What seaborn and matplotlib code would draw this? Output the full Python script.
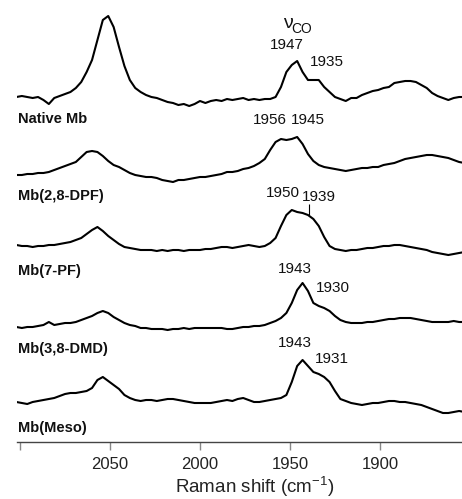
import numpy as np
import pandas as pd
import matplotlib
matplotlib.use("Agg")
import matplotlib.pyplot as plt
import seaborn as sns

wavenumber = np.arange(2102, 1852, -3)
samples = ["Native Mb", "Mb(2,8-DPF)", "Mb(7-PF)", "Mb(3,8-DMD)", "Mb(Meso)"]
offsets = [345, 267, 197, 115, 40]

native = [0, 1, 0, -1, 0, -3, -7, -1, 1, 3,
          5, 9, 15, 25, 37, 57, 77, 81, 70, 50,
          31, 17, 9, 5, 2, 0, -1, -3, -5, -6,
          -8, -7, -9, -7, -4, -6, -4, -3, -4, -2,
          -3, -2, -1, -3, -2, -3, -2, -2, 0, 10,
          25, 32, 36, 25, 17, 17, 17, 10, 5, 0,
          -2, -4, -1, -1, 2, 4, 6, 7, 9, 10,
          14, 15, 16, 16, 15, 12, 9, 4, 1, -1,
          -3, -1, 0, 0]
dpf = [0, 0, 1, 1, 2, 2, 3, 5, 7, 9,
       11, 13, 18, 23, 24, 23, 19, 14, 10, 8,
       5, 2, 0, -1, -2, -2, -3, -5, -6, -7,
       -5, -5, -4, -3, -2, -2, -1, 0, 1, 3,
       3, 4, 6, 7, 9, 12, 16, 25, 33, 36,
       35, 36, 38, 31, 21, 14, 10, 8, 7, 6,
       5, 4, 5, 6, 7, 7, 8, 8, 10, 11,
       12, 14, 16, 17, 18, 19, 20, 20, 19, 18,
       17, 15, 13, 12]
pf7 = [0, -1, -1, -2, -1, -1, 0, 0, 1, 2,
       3, 5, 7, 11, 15, 18, 14, 9, 5, 1,
       -2, -3, -4, -5, -5, -5, -6, -5, -6, -5,
       -5, -6, -5, -5, -5, -4, -4, -3, -2, -2,
       -3, -2, -1, 0, -1, -2, -1, 2, 7, 19,
       30, 35, 33, 32, 30, 26, 19, 8, -1, -4,
       -5, -6, -5, -5, -4, -3, -3, -2, -1, -1,
       0, 0, -1, -2, -3, -4, -5, -7, -8, -9,
       -10, -9, -8, -7]
dmd = [0, -1, 0, 0, 1, 2, 5, 2, 3, 4,
       4, 5, 7, 9, 11, 14, 16, 14, 10, 7,
       4, 2, 1, -1, -1, -2, -2, -2, -3, -2,
       -2, -1, -2, -1, -1, -1, -1, -1, -1, -2,
       -2, -1, 0, 0, 1, 1, 2, 4, 6, 9,
       14, 24, 37, 44, 36, 24, 21, 19, 16, 11,
       7, 5, 4, 4, 4, 5, 5, 6, 7, 8,
       8, 9, 9, 9, 8, 7, 6, 5, 5, 5,
       5, 6, 5, 5]
meso = [0, -1, -2, 0, 1, 2, 3, 4, 6, 8,
        9, 9, 10, 11, 14, 22, 25, 21, 17, 13,
        7, 4, 2, 1, 2, 2, 1, 2, 3, 3,
        2, 1, 0, -1, -1, -1, -1, 0, 1, 2,
        1, 3, 4, 2, 0, 0, 1, 2, 3, 4,
        7, 20, 36, 42, 36, 30, 28, 25, 20, 11,
        3, 1, -1, -2, -3, -2, -1, -1, 0, 1,
        1, 0, 0, -1, -2, -3, -5, -7, -9, -11,
        -11, -10, -9, -10]
spectra = [native, dpf, pf7, dmd, meso]

tick_values = [2100, 2050, 2000, 1950, 1900]
tick_labels = ["", "2050", "2000", "1950", "1900"]

rows = []
for name, off, ys in zip(samples, offsets, spectra):
    for w, v in zip(wavenumber, ys):
        rows.append({"w": w, "y": v + off, "sample": name})
df = pd.DataFrame(rows)

sns.set_style("white")
plt.rcParams["font.family"] = ["Liberation Sans", "DejaVu Sans"]
plt.rcParams["mathtext.fontset"] = "custom"
plt.rcParams["mathtext.rm"] = "Liberation Sans"

fig = plt.figure(figsize=(4.62, 4.99), dpi=100)
ax = fig.add_axes([17 / 462, 57 / 499, 445 / 462, 442 / 499])
sns.lineplot(data=df, x="w", y="y", units="sample", estimator=None, sort=False,
             color="black", lw=1.5, ax=ax, legend=False)

# sample names under each trace
name_y = [319, 242, 167, 89, 10]
for name, yy in zip(samples, name_y):
    ax.text(2101, yy, name, ha="left", va="baseline", fontsize=10.5,
            fontweight="bold", color="#111")

# peak positions
peaks = [("1947", 1951.7, 397), ("1935", 1929.4, 380),
         ("1956", 1961.1, 322), ("1945", 1940.0, 322),
         ("1950", 1954.2, 249), ("1939", 1933.9, 245),
         ("1943", 1947.0, 173), ("1930", 1926.4, 154),
         ("1943", 1947.0, 99), ("1931", 1926.7, 83)]
for txt, xx, yy in peaks:
    ax.text(xx, yy, txt, ha="center", va="center", fontsize=11, color="#111")
ax.vlines(1939.7, 227, 238, color="black", lw=0.8)

ax.text(1951.1, 419, "ν", ha="center", va="center", fontsize=14, color="#111")
ax.text(1943.5, 413, "CO", ha="center", va="center", fontsize=10, color="#111")

ax.set_xlim(2101.7, 1854.4)
ax.set_ylim(0, 442)
ax.set_xticks(tick_values)
ax.set_xticklabels(tick_labels)
ax.set_yticks([])
ax.set_ylabel("")
for s in ["left", "right", "top"]:
    ax.spines[s].set_visible(False)
ax.spines["bottom"].set_color("#444")
ax.spines["bottom"].set_linewidth(1)
ax.tick_params(axis="x", direction="out", length=6, width=1, color="#888",
               pad=5, labelsize=12, labelcolor="#222", bottom=True)
ax.set_xlabel("")
fig.text(255 / 462, 6 / 499, "Raman shift (cm$^{-1}$)", ha="center",
         va="baseline", fontsize=13.5, color="#222")

fig.savefig("out.png", dpi=100)
